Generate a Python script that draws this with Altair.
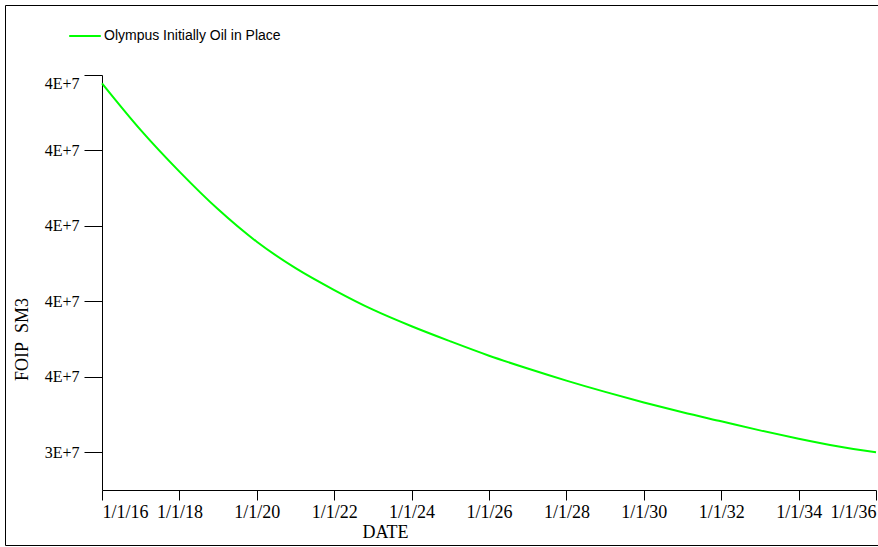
import altair as alt
import pandas as pd

# Field oil in place over the forecast period (SM3), yearly samples
dates = [
    "2016-01-01", "2017-01-01", "2018-01-01", "2019-01-01", "2020-01-01",
    "2021-01-01", "2022-01-01", "2023-01-01", "2024-01-01", "2025-01-01",
    "2026-01-01", "2027-01-01", "2028-01-01", "2029-01-01", "2030-01-01",
    "2031-01-01", "2032-01-01", "2033-01-01", "2034-01-01", "2035-01-01",
    "2036-01-01",
]
foip = [
    38.89e6, 38.27e6, 37.72e6, 37.22e6, 36.79e6,
    36.44e6, 36.15e6, 35.89e6, 35.67e6, 35.47e6,
    35.28e6, 35.11e6, 34.95e6, 34.80e6, 34.66e6,
    34.53e6, 34.41e6, 34.29e6, 34.18e6, 34.08e6,
    34.00e6,
]
series_name = "Olympus Initially Oil in Place"
tick_years = [2016, 2018, 2020, 2022, 2024, 2026, 2028, 2030, 2032, 2034, 2036]
y_ticks = [34e6, 35e6, 36e6, 37e6, 38e6, 39e6]

df = pd.DataFrame({"date": dates, "foip": foip, "series": series_name})

SERIF = "Liberation Serif"
SANS = "Liberation Sans"


def jan1(year):
    return alt.DateTime(year=year, month=1, date=1, utc=True)


line = alt.Chart(df).mark_line(strokeWidth=2, interpolate="monotone").encode(
    x=alt.X(
        "date:T",
        scale=alt.Scale(type="utc", domain=[jan1(2016), jan1(2036)]),
        axis=alt.Axis(
            title="DATE",
            values=[jan1(y) for y in tick_years],
            labelExpr="utcFormat(datum.value, '%-m/%-d/%y')",
            labelFlush=True,
            labelOverlap=False,
            tickSize=10,
            labelPadding=3,
            labelFontSize=18,
            titleX=283,
            titleY=47,
            titleAlign="center",
            titleBaseline="alphabetic",
        ),
    ),
    y=alt.Y(
        "foip:Q",
        scale=alt.Scale(domain=[33.5e6, 39e6], nice=False, zero=False),
        axis=alt.Axis(
            title="FOIP\u00a0\u00a0SM3",
            values=y_ticks,
            labelExpr="upper(format(datum.value, '.0e'))",
            labelFlush=True,
            labelOverlap=False,
            tickSize=18,
            labelPadding=5,
            labelFontSize=16,
            titleAngle=270,
            titleX=-75,
            titleY=264,
            titleAlign="center",
            titleBaseline="alphabetic",
        ),
    ),
    color=alt.Color(
        "series:N",
        scale=alt.Scale(domain=[series_name], range=["#00ff00"]),
        legend=alt.Legend(
            title=None,
            orient="none",
            legendX=-34,
            legendY=-56,
            padding=0,
            symbolType="stroke",
            symbolSize=1000,
            symbolStrokeWidth=2,
            labelFont=SANS,
            labelFontSize=14,
            labelColor="#000000",
            labelOffset=2,
            labelLimit=0,
        ),
    ),
)

# Outer frame around the figure
frame = alt.Chart(alt.Data(values=[{}])).mark_rect(
    fill="white", fillOpacity=0, stroke="#000000", strokeWidth=1
).encode(
    x=alt.value(-96.5),
    x2=alt.value(790),
    y=alt.value(-69.5),
    y2=alt.value(470.5),
)

chart = (
    alt.layer(frame, line)
    .properties(
        width=774,
        height=415,
        autosize=alt.AutoSizeParams(type="none"),
        padding={"left": 102, "top": 75, "right": 2, "bottom": 57},
        background="white",
    )
    .configure_view(stroke="transparent")
    .configure_axis(
        grid=False,
        domainColor="#000000",
        tickColor="#000000",
        labelColor="#000000",
        titleColor="#000000",
        labelFont=SERIF,
        titleFont=SERIF,
        titleFontSize=18,
        titleFontWeight="normal",
    )
)

chart.save("out.html", embed_options={"renderer": "svg", "actions": False})
